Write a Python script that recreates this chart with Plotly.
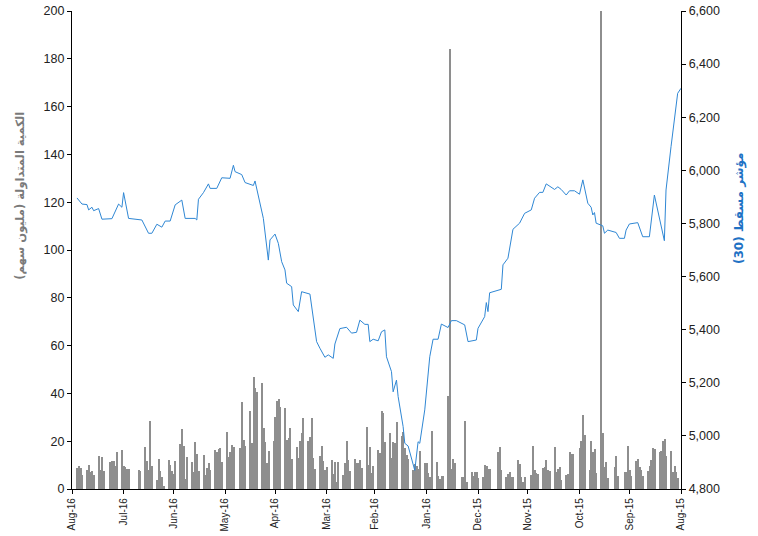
import plotly.graph_objects as go

# ---------------- data ----------------
bar_dates = [
    "2016-07-29", "2016-07-28", "2016-07-27", "2016-07-26",
    "2016-07-23", "2016-07-22", "2016-07-21", "2016-07-20", "2016-07-19",
    "2016-07-16", "2016-07-15", "2016-07-14", "2016-07-13",
    "2016-07-09", "2016-07-08", "2016-07-07", "2016-07-06", "2016-07-05",
    "2016-07-02", "2016-07-01", "2016-06-30", "2016-06-29", "2016-06-28",
    "2016-06-22", "2016-06-21",
    "2016-06-18", "2016-06-17", "2016-06-16", "2016-06-15", "2016-06-14",
    "2016-06-11", "2016-06-10", "2016-06-09", "2016-06-08", "2016-06-07",
    "2016-06-04", "2016-06-03", "2016-06-02", "2016-06-01", "2016-05-31",
    "2016-05-28", "2016-05-27", "2016-05-26", "2016-05-25", "2016-05-24",
    "2016-05-21", "2016-05-20", "2016-05-19", "2016-05-18", "2016-05-17",
    "2016-05-14", "2016-05-13", "2016-05-12", "2016-05-11", "2016-05-10",
    "2016-05-07", "2016-05-06", "2016-05-05", "2016-05-04", "2016-05-03",
    "2016-04-30", "2016-04-29", "2016-04-28", "2016-04-27", "2016-04-26",
    "2016-04-22", "2016-04-21", "2016-04-20", "2016-04-19",
    "2016-04-16", "2016-04-15", "2016-04-14", "2016-04-13", "2016-04-12",
    "2016-04-09", "2016-04-08", "2016-04-07", "2016-04-06", "2016-04-05",
    "2016-04-02", "2016-04-01", "2016-03-31", "2016-03-30", "2016-03-29",
    "2016-03-26", "2016-03-25", "2016-03-24", "2016-03-23", "2016-03-22",
    "2016-03-19", "2016-03-18", "2016-03-17", "2016-03-16", "2016-03-15",
    "2016-03-12", "2016-03-11", "2016-03-10", "2016-03-09", "2016-03-08",
    "2016-03-05", "2016-03-04", "2016-03-03", "2016-03-02", "2016-03-01",
    "2016-02-27", "2016-02-26", "2016-02-25", "2016-02-24", "2016-02-23",
    "2016-02-20", "2016-02-19", "2016-02-18", "2016-02-17", "2016-02-16",
    "2016-02-13", "2016-02-12", "2016-02-11", "2016-02-10", "2016-02-09",
    "2016-02-06", "2016-02-05", "2016-02-04", "2016-02-03", "2016-02-02",
    "2016-01-30", "2016-01-29", "2016-01-28", "2016-01-27", "2016-01-26",
    "2016-01-23", "2016-01-22", "2016-01-21", "2016-01-20", "2016-01-19",
    "2016-01-16", "2016-01-15", "2016-01-14", "2016-01-13", "2016-01-12",
    "2016-01-09", "2016-01-08", "2016-01-07", "2016-01-06", "2016-01-05",
    "2016-01-02", "2016-01-01", "2015-12-31", "2015-12-30", "2015-12-29",
    "2015-12-26", "2015-12-25", "2015-12-24", "2015-12-23", "2015-12-22",
    "2015-12-19", "2015-12-18", "2015-12-17", "2015-12-16", "2015-12-15",
    "2015-12-11", "2015-12-10", "2015-12-09", "2015-12-08",
    "2015-12-05", "2015-12-04", "2015-12-03", "2015-12-02", "2015-12-01",
    "2015-11-28", "2015-11-27", "2015-11-26", "2015-11-25", "2015-11-24",
    "2015-11-19", "2015-11-18", "2015-11-17",
    "2015-11-14", "2015-11-13", "2015-11-12", "2015-11-11", "2015-11-10",
    "2015-11-07", "2015-11-06", "2015-11-05", "2015-11-04", "2015-11-03",
    "2015-10-30", "2015-10-29", "2015-10-28", "2015-10-27", "2015-10-26",
    "2015-10-23", "2015-10-22", "2015-10-21", "2015-10-20", "2015-10-19",
    "2015-10-16", "2015-10-15", "2015-10-14", "2015-10-13", "2015-10-12",
    "2015-10-09", "2015-10-08", "2015-10-07", "2015-10-06", "2015-10-05",
    "2015-10-01", "2015-09-30", "2015-09-29", "2015-09-28",
    "2015-09-25", "2015-09-24", "2015-09-23", "2015-09-22", "2015-09-21",
    "2015-09-18", "2015-09-17", "2015-09-16", "2015-09-15", "2015-09-14",
    "2015-09-10", "2015-09-09", "2015-09-08",
    "2015-09-04", "2015-09-03", "2015-09-02", "2015-09-01", "2015-08-31",
    "2015-08-28", "2015-08-27", "2015-08-26", "2015-08-25", "2015-08-24",
    "2015-08-21", "2015-08-20", "2015-08-19", "2015-08-18", "2015-08-17",
    "2015-08-14", "2015-08-13", "2015-08-12", "2015-08-11", "2015-08-10",
    "2015-08-07", "2015-08-06", "2015-08-05", "2015-08-04", "2015-08-03",
]

bar_volumes = [
    8.6, 9.5, 8.9, 5.9,
    8.0, 10.2, 7.3, 7.5, 5.7,
    13.8, 8.0, 13.2, 7.5,
    11.4, 11.9, 11.6, 9.8, 15.3,
    16.3, 9.5, 9.1, 8.2, 8.4,
    8.0, 7.5,
    17.7, 11.9, 8.0, 28.6, 9.5,
    3.8, 12.4, 7.5, 4.9, 1.3,
    12.1, 10.0, 7.5, 6.1, 11.7,
    18.8, 25.0, 18.0, 4.2, 13.5,
    11.4, 7.0, 19.8, 14.8, 7.5,
    14.1, 5.7, 8.8, 11.0, 8.0,
    16.3, 15.6, 16.8, 17.3, 11.4,
    24.0, 13.5, 15.6, 18.3, 17.4,
    17.2, 36.5, 20.5, 18.0,
    32.6, 19.4, 47.0, 42.1, 40.7,
    44.5, 25.7, 19.8, 11.0, 16.0,
    20.2, 30.3, 37.0, 37.7, 34.4,
    33.7, 20.5, 21.2, 25.5, 12.7,
    17.4, 12.8, 20.1, 23.3, 29.6,
    19.9, 21.6, 29.6, 12.8, 8.4,
    13.8, 17.9, 11.7, 8.0, 9.1,
    12.0, 6.3, 11.4, 3.1, 11.4,
    5.9, 11.0, 20.2, 12.1, 7.7,
    12.4, 10.7, 11.0, 12.1, 8.8,
    25.8, 10.0, 17.7, 6.8, 9.5,
    16.3, 15.2, 32.8, 31.7, 19.8,
    23.5, 13.1, 19.8, 19.1, 28.2,
    22.2, 24.0, 17.0, 14.2, 12.4,
    8.0, 10.5, 9.8, 8.3, 16.0,
    10.7, 10.7, 6.6, 5.2, 24.3,
    11.4, 5.4, 4.0, 5.4, 5.4,
    38.9, 184.0, 8.2, 12.4, 11.0,
    4.9, 5.2, 28.4, 3.1,
    7.3, 5.5, 7.3, 7.0, 4.5,
    5.2, 10.0, 9.6, 8.4, 8.4,
    15.6, 17.4, 8.0,
    5.2, 6.3, 7.3, 5.2, 4.9,
    12.1, 10.5, 5.2, 3.1, 4.9,
    5.9, 18.0, 8.0, 6.6, 6.3,
    8.9, 9.1, 12.1, 8.0, 7.7,
    17.4, 7.0, 8.4, 9.3, 3.8,
    5.9, 6.3, 15.6, 14.6, 14.5,
    17.3, 20.1, 31.0, 22.6,
    8.0, 20.2, 15.6, 16.6, 6.6,
    215.0, 23.3, 9.3, 11.4, 4.8,
    9.3, 13.8, 5.4,
    7.0, 7.3, 18.0, 8.0, 5.4,
    11.9, 12.4, 9.3, 8.0, 5.4,
    7.7, 9.6, 12.1, 17.3, 16.7,
    15.3, 16.0, 20.1, 20.8, 14.0,
    15.9, 7.3, 9.6, 7.3, 4.5,
]

index_dates = [
    "2016-07-29", "2016-07-26", "2016-07-23", "2016-07-22", "2016-07-20", "2016-07-19",
    "2016-07-16", "2016-07-14", "2016-07-08", "2016-07-06", "2016-07-04", "2016-07-02",
    "2016-07-01", "2016-06-28", "2016-06-20", "2016-06-16", "2016-06-14", "2016-06-11",
    "2016-06-08", "2016-06-06", "2016-06-03", "2016-05-31", "2016-05-27", "2016-05-25",
    "2016-05-19", "2016-05-18", "2016-05-17", "2016-05-14", "2016-05-11", "2016-05-10",
    "2016-05-06", "2016-05-03", "2016-04-28", "2016-04-26", "2016-04-25", "2016-04-21",
    "2016-04-19", "2016-04-14", "2016-04-13", "2016-04-08", "2016-04-05", "2016-04-04",
    "2016-04-01", "2016-03-30", "2016-03-28", "2016-03-26", "2016-03-25", "2016-03-22",
    "2016-03-21", "2016-03-18", "2016-03-16", "2016-03-11", "2016-03-07", "2016-03-05",
    "2016-03-02", "2016-02-29", "2016-02-26", "2016-02-25", "2016-02-22", "2016-02-18",
    "2016-02-15", "2016-02-12", "2016-02-10", "2016-02-07", "2016-02-05", "2016-02-04",
    "2016-02-02", "2016-01-30", "2016-01-28", "2016-01-26", "2016-01-25", "2016-01-22",
    "2016-01-21", "2016-01-19", "2016-01-18", "2016-01-15", "2016-01-14", "2016-01-12",
    "2016-01-11", "2016-01-08", "2016-01-06", "2016-01-05", "2016-01-02", "2015-12-30",
    "2015-12-28", "2015-12-25", "2015-12-23", "2015-12-19", "2015-12-17", "2015-12-14",
    "2015-12-09", "2015-12-07", "2015-12-02", "2015-12-01", "2015-11-27", "2015-11-26",
    "2015-11-25", "2015-11-24", "2015-11-17", "2015-11-16", "2015-11-13", "2015-11-10",
    "2015-11-06", "2015-11-03", "2015-10-30", "2015-10-28", "2015-10-25", "2015-10-23",
    "2015-10-21", "2015-10-19", "2015-10-16", "2015-10-14", "2015-10-12", "2015-10-09",
    "2015-10-07", "2015-10-04", "2015-10-01", "2015-09-29", "2015-09-26", "2015-09-24",
    "2015-09-23", "2015-09-22", "2015-09-21", "2015-09-17", "2015-09-16", "2015-09-14",
    "2015-09-09", "2015-09-07", "2015-09-04", "2015-09-03", "2015-09-01", "2015-08-27",
    "2015-08-24", "2015-08-20", "2015-08-17", "2015-08-11", "2015-08-10", "2015-08-07",
    "2015-08-05", "2015-08-03", "2015-08-01",
]

index_values = [
    5896, 5873, 5871, 5851, 5861, 5848,
    5856, 5816, 5818, 5843, 5873, 5861,
    5916, 5819, 5813, 5763, 5763, 5797,
    5786, 5809, 5809, 5870, 5888, 5819,
    5819, 5813, 5891, 5916, 5949, 5932,
    5932, 5972, 5970, 6019, 5995, 5984,
    5954, 5943, 5960, 5819, 5662, 5738,
    5760, 5725, 5656, 5625, 5575, 5562,
    5493, 5468, 5543, 5534, 5355, 5330,
    5296, 5305, 5292, 5346, 5404, 5409,
    5387, 5390, 5436, 5420, 5420, 5355,
    5364, 5358, 5392, 5399, 5298, 5242,
    5166, 5210, 5148, 5035, 4972, 4962,
    4940, 4870, 4978, 4972, 5098, 5298,
    5364, 5364, 5421, 5408, 5434, 5434,
    5418, 5355, 5361, 5405, 5449, 5502,
    5468, 5539, 5552, 5644, 5669, 5778,
    5801, 5838, 5851, 5895, 5917, 5917,
    5949, 5941, 5928, 5938, 5928, 5907,
    5923, 5923, 5910, 5964, 5876, 5861,
    5832, 5841, 5801, 5791, 5763, 5775,
    5766, 5744, 5744, 5775, 5798, 5803,
    5750, 5750, 5907, 5735, 5926, 6089,
    6202, 6290, 6309,
]

month_ticks = [
    "2016-08-01", "2016-07-01", "2016-06-01", "2016-05-01", "2016-04-01",
    "2016-03-01", "2016-02-01", "2016-01-01", "2015-12-01", "2015-11-01",
    "2015-10-01", "2015-09-01", "2015-08-01",
]

left_title = "الكمية المتداولة (مليون سهم)"
right_title = "مؤشر مسقط (30)"

# ---------------- styling ----------------
BAR_COLOR = "#8e8e8e"
LINE_COLOR = "#2f87d4"
RIGHT_TITLE_COLOR = "#1f72c4"
LEFT_TITLE_COLOR = "#7a7a7a"
FONT = "Liberation Sans, Arial, Helvetica, sans-serif"
AR_FONT = "DejaVu Sans, Noto Sans, sans-serif"
DAY_MS = 86400000

fig = go.Figure()

fig.add_trace(go.Bar(
    x=bar_dates, y=bar_volumes,
    width=0.85 * DAY_MS,
    marker=dict(color=BAR_COLOR, line=dict(width=0)),
    yaxis="y", showlegend=False,
))

fig.add_trace(go.Scatter(
    x=index_dates, y=index_values,
    mode="lines",
    line=dict(color=LINE_COLOR, width=1),
    yaxis="y2", showlegend=False,
))

axis_common = dict(
    showline=True, linecolor="black", linewidth=1.3,
    ticks="outside", ticklen=4, tickcolor="black", tickwidth=1,
    showgrid=False, zeroline=False, automargin=False,
)

fig.update_layout(
    width=758, height=536,
    margin=dict(l=72, r=77, t=11, b=47),
    paper_bgcolor="white", plot_bgcolor="white",
    font=dict(family=FONT, color="#222222", size=12),
    bargap=0,
    xaxis=dict(
        type="date",
        range=["2016-08-01", "2015-08-01"],
        tickmode="array", tickvals=month_ticks,
        tickformat="%b-%y", tickangle=-90,
        tickfont=dict(size=10, family=FONT, color="#222222"),
        **axis_common,
    ),
    yaxis=dict(
        range=[0, 200], tickmode="linear", tick0=0, dtick=20,
        tickfont=dict(size=12.5, family=FONT, color="#222222"),
        **axis_common,
    ),
    yaxis2=dict(
        overlaying="y", side="right",
        range=[4800, 6600], tickmode="linear", tick0=4800, dtick=200,
        tickformat=",d",
        tickfont=dict(size=12.5, family=FONT, color="#222222"),
        **axis_common,
    ),
    annotations=[
        dict(
            text="<b>" + left_title + "</b>", textangle=-90,
            xref="paper", yref="paper", x=-0.084, y=0.613,
            xanchor="center", yanchor="middle", showarrow=False,
            font=dict(family=AR_FONT, size=11.5, color=LEFT_TITLE_COLOR),
        ),
        dict(
            text="<b>" + right_title + "</b>", textangle=-90,
            xref="paper", yref="paper", x=1.097, y=0.586,
            xanchor="center", yanchor="middle", showarrow=False,
            font=dict(family=AR_FONT, size=12, color=RIGHT_TITLE_COLOR),
        ),
    ],
)

fig.write_html(
    "out.html",
    config={"displayModeBar": False},
    post_script="document.body.style.margin='0';document.body.style.overflow='hidden';",
)
